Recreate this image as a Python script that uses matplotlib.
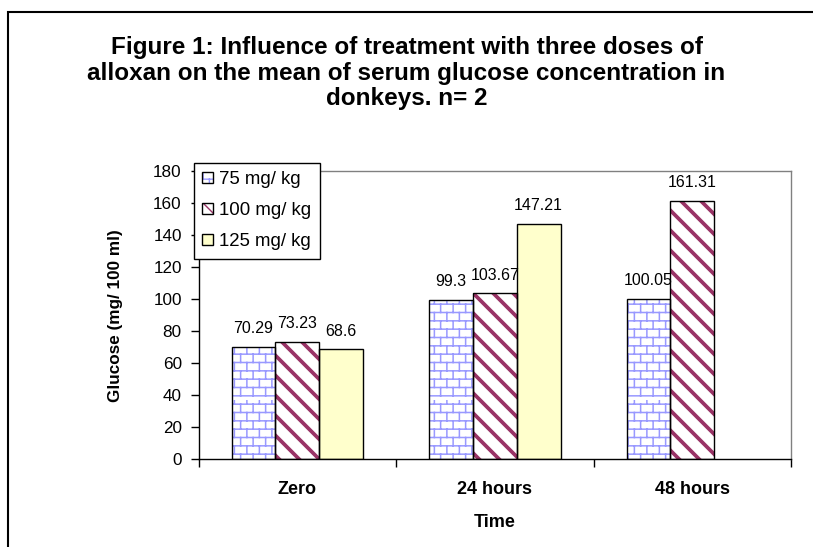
import warnings
import numpy as np
import matplotlib
matplotlib.use('Agg')
from matplotlib import pyplot as plt
from matplotlib import hatch as mhatch
from matplotlib.path import Path
from matplotlib.lines import Line2D

warnings.filterwarnings('ignore')

## DATA ##
times = ['Zero', '24 hours', '48 hours']
doses = ['75 mg/ kg', '100 mg/ kg', '125 mg/ kg']
dose_75 = [70.29, 99.3, 100.05]
dose_100 = [73.23, 103.67, 161.31]
dose_125 = [68.6, 147.21, np.nan]
y_ticks = [0, 20, 40, 60, 80, 100, 120, 140, 160, 180]


## custom hatches (brick wall + wide diagonal stripes) ##
class BrickHatch(mhatch.HatchPatternBase):
    rows, cols = 12, 8

    def __init__(self, hatch, density):
        n = self.rows + self.rows * self.cols
        self.num_vertices = 2 * n if 'b' in hatch else 0

    def set_vertices_and_codes(self, vertices, codes):
        pts = []
        for i in range(self.rows):
            y = (i + 0.5) / self.rows
            pts += [(0.0, y), (1.0, y)]
        for i in range(self.rows):
            y0, y1 = (i + 0.5) / self.rows, (i + 1.5) / self.rows
            shift = 0.25 / self.cols + (0.5 / self.cols if i % 2 else 0.0)
            for j in range(self.cols):
                x = j / self.cols + shift
                pts += [(x, y0), (x, y1)]
        vertices[:] = pts
        codes[0::2] = Path.MOVETO
        codes[1::2] = Path.LINETO


class StripeHatch(mhatch.HatchPatternBase):
    n_lines = 10

    def __init__(self, hatch, density):
        self.num_vertices = (self.n_lines + 1) * 2 if 'd' in hatch else 0

    def set_vertices_and_codes(self, vertices, codes):
        steps = np.linspace(-0.5, 0.5, self.n_lines + 1)
        vertices[0::2, 0] = 0.0 + steps
        vertices[0::2, 1] = 1.0 + steps
        vertices[1::2, 0] = 1.0 + steps
        vertices[1::2, 1] = 0.0 + steps
        codes[0::2] = Path.MOVETO
        codes[1::2] = Path.LINETO


mhatch._hatch_types.append(BrickHatch)
mhatch._hatch_types.append(StripeHatch)

## CONFIGS ##
plt.rcParams['font.family'] = ['Liberation Sans', 'DejaVu Sans']
plt.rcParams['axes.linewidth'] = 1.0

series = [dose_75, dose_100, dose_125]
faces = ['white', 'white', '#FFFFCC']
hatch_cols = ['#9999FF', '#993366', '#FFFFCC']
hatches = ['b', 'd', None]
hatch_lw = [1.1, 2.7, 1.0]

fig = plt.figure(figsize=(8.13, 5.47), dpi=100)
ax = fig.add_axes([0.2442, 0.1609, 0.973 - 0.2442, 0.6865 - 0.1609])

# outer chart frame (only left and top edges are visible)
fx, fy = 7.5 / 813, 1 - 12 / 547
fig.add_artist(Line2D([fx, fx, 1.01], [-0.01, fy, fy], transform=fig.transFigure,
                      color='black', linewidth=1.5, solid_joinstyle='miter'))

pos = np.arange(len(times))
width = 0.222
handles = []
for i, vals in enumerate(series):
    xs = pos + (i - 1) * width
    with plt.rc_context({'hatch.linewidth': hatch_lw[i]}):
        hb = ax.bar(xs, vals, width, color=faces[i], edgecolor=hatch_cols[i],
                    hatch=hatches[i], linewidth=0, zorder=2)
    for p in hb:
        if hasattr(p, 'set_hatch_linewidth'):
            p.set_hatch_linewidth(hatch_lw[i])
    ob = ax.bar(xs, vals, width, fill=False, edgecolor='black',
                linewidth=1.0, zorder=3)
    handles.append((hb, ob))
    for x, v in zip(xs, vals):
        if np.isnan(v):
            continue
        ax.annotate(f'{v:g}', (x, v), xytext=(0, 10), textcoords='offset points',
                    ha='center', va='baseline', fontsize=11.5, zorder=5)

ax.set_xlim(-0.5, 2.5)
ax.set_ylim(0, 180)
ax.set_yticks(y_ticks)
ax.tick_params(axis='y', length=5.5, width=1.0, pad=6.5, labelsize=12.3)
ax.set_xticks(pos)
ax.set_xticklabels(times, fontweight='bold', fontsize=13)
ax.set_xticks([-0.5, 0.5, 1.5, 2.5], minor=True)
ax.tick_params(axis='x', which='major', length=0, pad=15.5)
ax.tick_params(axis='x', which='minor', length=5.5, width=1.0)

for s in ['top', 'right']:
    ax.spines[s].set_color('#808080')

ax.set_ylabel('Glucose (mg/ 100 ml)', fontweight='bold', fontsize=12.3)
ax.yaxis.set_label_coords(-0.127, 0.5)
ax.set_xlabel('Time', fontweight='bold', fontsize=13)
ax.xaxis.set_label_coords(0.5, -0.19)

leg = ax.legend(handles, doses, loc='upper left',
                bbox_to_anchor=(194 / 813, 1 - 163 / 547),
                bbox_transform=fig.transFigure, borderaxespad=0,
                fontsize=13.4, handlelength=0.55, handleheight=0.55,
                handletextpad=0.35, labelspacing=0.75, borderpad=0.45,
                fancybox=False, framealpha=1, edgecolor='black')
leg.get_frame().set_linewidth(1.0)
leg.set_zorder(10)

fig.text(0.5, 1 - 36 / 547,
         'Figure 1: Influence of treatment with three doses of\n'
         'alloxan on the mean of serum glucose concentration in\n'
         'donkeys. n= 2',
         ha='center', va='top', fontsize=17.5, fontweight='bold',
         linespacing=1.14)

plt.savefig('out.png', dpi=100)
